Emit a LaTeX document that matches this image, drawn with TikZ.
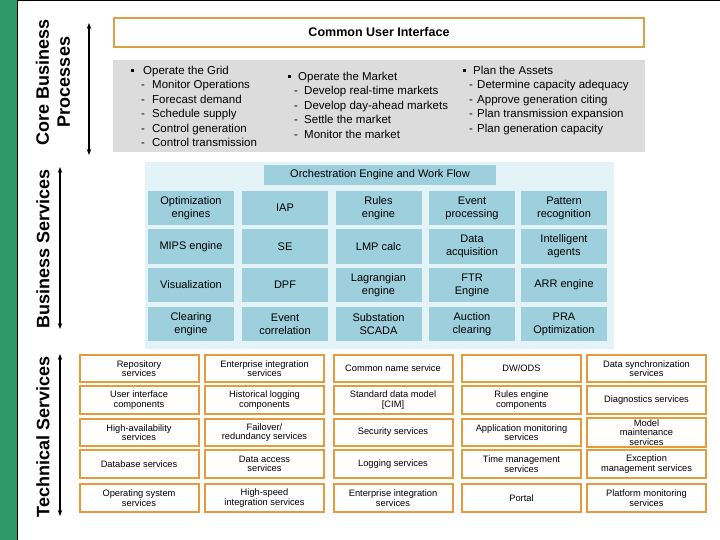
\documentclass[tikz,border=0pt]{standalone}
\usepackage{fontspec}
\setmainfont{Liberation Sans}
\usetikzlibrary{arrows.meta}

\definecolor{sidegreen}{HTML}{2E9A68}
\definecolor{uiorange}{HTML}{DDA048}
\definecolor{techorange}{HTML}{E69A3C}
\definecolor{procgray}{HTML}{DCDCDC}
\definecolor{bizback}{HTML}{E4F3F7}
\definecolor{bizcellfill}{HTML}{9DD0DC}

\newcommand{\procbul}[2][12pt]{\makebox[#1][l]{\raisebox{2.5pt}{\rule{3pt}{3pt}}}#2}
\newcommand{\procsub}[3][10pt]{\hspace{#1}\makebox[#2][l]{-}#3}

\begin{document}
\begin{tikzpicture}[x=1pt,y=-1pt, inner sep=1pt,
  bizcell/.style={fill=bizcellfill, minimum width=86, minimum height=34, align=center, font=\fontsize{11}{13}\selectfont},
  techcell/.style={draw=techorange, line width=2pt, fill=white, minimum width=119, minimum height=27.5, align=center, font=\fontsize{9.3}{9.6}\selectfont},
  sidelabel/.style={rotate=90, align=center, font=\fontsize{18}{21}\selectfont\bfseries},
  span/.style={{Stealth[length=6pt,width=4.5pt]}-{Stealth[length=6pt,width=4.5pt]}, line width=1.2pt},
  proctext/.style={anchor=north west, inner sep=0pt, align=left, font=\fontsize{11.5}{14.4}\selectfont}]
\useasboundingbox (0,0) rectangle (720,540);
\fill[sidegreen] (0,0) rectangle (17,540);
\draw[line width=1.2pt] (17.6,0) -- (17.6,540);
\draw[line width=1.2pt] (17.6,0.6) -- (720,0.6);

% side labels
\node[sidelabel] (cbp) at (53,82) {Core Business\\Processes};
\node[sidelabel] (bs) at (43,249) {Business Services};
\node[sidelabel] (ts) at (43,437) {Technical Services};
\coordinate (cbptop) at (89,23);
\coordinate (cbpbot) at (89,155);
\coordinate (bstop) at (60,167);
\coordinate (bsbot) at (60,329);
\coordinate (tstop) at (60,354);
\coordinate (tsbot) at (60,516);
\draw[span] (cbptop) -- (cbpbot);
\draw[span] (bstop) -- (bsbot);
\draw[span] (tstop) -- (tsbot);

% core business processes
\node[draw=uiorange, line width=2pt, fill=white, minimum width=530, minimum height=29, font=\fontsize{12.5}{14}\selectfont\bfseries] (ui) at (379,32.5) {Common User Interface};
\node[fill=procgray, minimum width=532, minimum height=92, inner sep=0pt] (proc) at (379,106) {};
\node[proctext] (grid) at (131,66) {\procbul{Operate the Grid}\\
  \procsub{11pt}{Monitor Operations}\\
  \procsub{11pt}{Forecast demand}\\
  \procsub{11pt}{Schedule supply}\\
  \procsub{11pt}{Control generation}\\
  \procsub{11pt}{Control transmission}};
\node[proctext] (market) at (288,72) {\procbul[10pt]{Operate the Market}\\
  \procsub[6pt]{10pt}{Develop real-time markets}\\
  \procsub[6pt]{10pt}{Develop day-ahead markets}\\
  \procsub[6pt]{10pt}{Settle the market}\\
  \procsub[6pt]{10pt}{Monitor the market}};
\node[proctext] (assets) at (463,66) {\procbul[10pt]{Plan the Assets}\\
  \procsub[6pt]{8pt}{Determine capacity adequacy}\\
  \procsub[6pt]{8pt}{Approve generation citing}\\
  \procsub[6pt]{8pt}{Plan transmission expansion}\\
  \procsub[6pt]{8pt}{Plan generation capacity}};

% business services
\node[fill=bizback, minimum width=469, minimum height=187, inner sep=0pt] (bizbg) at (379.5,255.5) {};
\node[fill=bizcellfill, minimum width=232, minimum height=20, font=\fontsize{11}{13}\selectfont] (orch) at (380,175) {Orchestration Engine and Work Flow};

\node[bizcell] (optim) at (191,208) {Optimization\\engines};
\node[bizcell] (iap) at (285,208) {IAP};
\node[bizcell] (rules) at (378.5,208) {Rules\\engine};
\node[bizcell] (evproc) at (472,208) {Event\\processing};
\node[bizcell] (pattern) at (564,208) {Pattern\\recognition};

\node[bizcell] (mips) at (191,246.5) {MIPS engine};
\node[bizcell] (se) at (285,246.5) {SE};
\node[bizcell] (lmp) at (378.5,246.5) {LMP calc};
\node[bizcell] (dacq) at (472,246.5) {Data\\acquisition};
\node[bizcell] (agents) at (564,246.5) {Intelligent\\agents};

\node[bizcell] (visual) at (191,285) {Visualization};
\node[bizcell] (dpf) at (285,285) {DPF};
\node[bizcell] (lagr) at (378.5,285) {Lagrangian\\engine};
\node[bizcell] (ftr) at (472,285) {FTR\\Engine};
\node[bizcell] (arr) at (564,285) {ARR engine};

\node[bizcell] (clear) at (191,324) {Clearing\\engine};
\node[bizcell] (evcorr) at (285,324) {Event\\correlation};
\node[bizcell] (scada) at (378.5,324) {Substation\\SCADA};
\node[bizcell] (auction) at (472,324) {Auction\\clearing};
\node[bizcell] (pra) at (564,324) {PRA\\Optimization};

% technical services
\node[techcell] (repo) at (139,368.5) {Repository\\services};
\node[techcell] (eis) at (264.5,368.5) {Enterprise integration\\services};
\node[techcell] (cns) at (393,368.5) {Common name service};
\node[techcell] (dwods) at (521.5,368.5) {DW/ODS};
\node[techcell] (dsync) at (646.5,368.5) {Data synchronization\\services};

\node[techcell] (uicomp) at (139,400) {User interface\\components};
\node[techcell] (histlog) at (264.5,400) {Historical logging\\components};
\node[techcell] (cim) at (393,400) {Standard data model\\{[CIM]}};
\node[techcell] (rulescomp) at (521.5,400) {Rules engine\\components};
\node[techcell] (diag) at (646.5,400) {Diagnostics services};

\node[techcell] (haserv) at (139,432.5) {High-availability\\services};
\node[techcell] (failover) at (264.5,432.5) {Failover/\\redundancy services};
\node[techcell] (secur) at (393,432.5) {Security services};
\node[techcell] (appmon) at (521.5,432.5) {Application monitoring\\services};
\node[techcell] (modelmt) at (646.5,432.5) {Model\\maintenance\\services};

\node[techcell] (dbserv) at (139,464) {Database services};
\node[techcell] (daccess) at (264.5,464) {Data access\\services};
\node[techcell] (logserv) at (393,464) {Logging services};
\node[techcell] (timemgmt) at (521.5,464) {Time management\\services};
\node[techcell] (except) at (646.5,464) {Exception\\management services};

\node[techcell] (osserv) at (139,498) {Operating system\\services};
\node[techcell] (hsint) at (264.5,498) {High-speed\\integration services};
\node[techcell] (eis2) at (393,498) {Enterprise integration\\services};
\node[techcell] (portal) at (521.5,498) {Portal};
\node[techcell] (platmon) at (646.5,498) {Platform monitoring\\services};
\end{tikzpicture}
\end{document}
